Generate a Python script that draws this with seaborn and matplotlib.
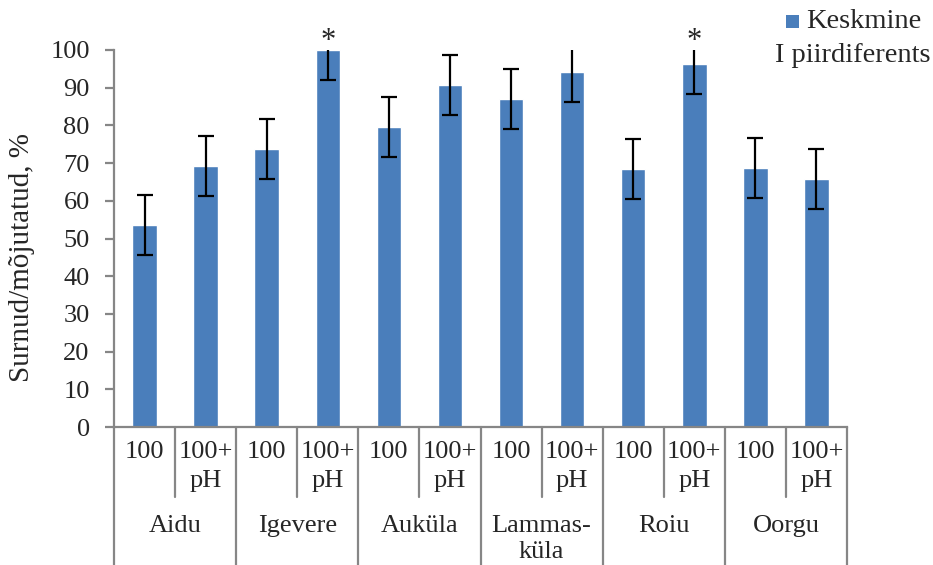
import matplotlib
matplotlib.use("Agg")
import matplotlib.pyplot as plt
import seaborn as sns
import pandas as pd
import numpy as np
from matplotlib.lines import Line2D
from matplotlib.patches import Rectangle

group_labels = ["Aidu", "Igevere", "Auküla", "Lammas-\nküla", "Roiu", "Oorgu"]
subcats = ["100", "100+\npH"]
values = [53.6, 69.3, 73.7, 100.0, 79.5, 90.7, 87.0, 94.2, 68.5, 96.4, 68.7, 65.8]
errors = [8, 8, 8, 8, 8, 8, 8, 8, 8, 8, 8, 8]
significant = [False, False, False, True, False, False, False, False, False, True, False, False]
yticks = [0, 10, 20, 30, 40, 50, 60, 70, 80, 90, 100]

sns.set_style("white")
plt.rcParams["font.family"] = ["Liberation Serif", "DejaVu Serif"]

bar_color = "#4A7EBB"
axis_gray = "#868686"

labels = [f"{g}|{s}" for g in group_labels for s in subcats]
df = pd.DataFrame({"cat": labels, "val": values})

fig = plt.figure(figsize=(9.33, 5.65), dpi=100)
ax = fig.add_axes([114/933, 1-427/565, (847-114)/933, (427-50)/565])

sns.barplot(data=df, x="cat", y="val", color=bar_color, width=0.4, ax=ax,
            errorbar=None, saturation=1)
xs = np.arange(len(values))
ax.errorbar(xs, values, yerr=errors, fmt="none", ecolor="black", elinewidth=1.6,
            capsize=5.5, capthick=1.6, zorder=5)

ax.set_xlim(-0.5, len(values) - 0.5)
ax.set_ylim(0, 100)
ax.set_yticks(yticks)
ax.set_yticklabels([str(t) for t in yticks], fontsize=19)
ax.set_xticks([])
ax.set_xlabel("")
ax.set_ylabel("")
for s in ["top", "right"]:
    ax.spines[s].set_visible(False)
for s in ["left", "bottom"]:
    ax.spines[s].set_color(axis_gray)
    ax.spines[s].set_linewidth(1.6)
ax.tick_params(axis="y", direction="out", length=6.5, width=1.6, color=axis_gray, pad=11, left=True)

# asterisks
for x, v, sig in zip(xs, values, significant):
    if sig:
        ax.text(x, 102.3, "*", ha="center", va="center", fontsize=22, clip_on=False)

# multi-level category axis
trans = ax.get_xaxis_transform()
def ax_y(py):
    return (427 - py) / (427 - 50)

for i in range(len(group_labels) + 1):
    x = 2 * i - 0.5
    ax.add_line(Line2D([x, x], [0, ax_y(566)], transform=trans, color=axis_gray,
                       lw=1.6, clip_on=False))
for i in range(len(group_labels)):
    x = 2 * i + 0.5
    ax.add_line(Line2D([x, x], [0, ax_y(497)], transform=trans, color=axis_gray,
                       lw=1.6, clip_on=False))

for i, lab in enumerate(labels):
    g, s = lab.split("|")
    ax.text(i, ax_y(441), s, transform=trans, ha="center", va="top",
            fontsize=19, linespacing=1.42, clip_on=False)
for i, g in enumerate(group_labels):
    ax.text(2 * i + 0.5, ax_y(515), g, transform=trans, ha="center", va="top",
            fontsize=19, linespacing=1.22, clip_on=False)

# y label
fig.text(22/933, 1 - 258/565, "Surnud/mõjutatud, %", rotation=90, ha="center",
         va="center", fontsize=21)

# legend
fig.patches.append(Rectangle((786/933, 1 - 28/565), 13/933, 13/565,
                             transform=fig.transFigure, facecolor=bar_color,
                             edgecolor="none"))
fig.text(806/933, 1 - 22/565, "Keskmine", ha="left", va="center", fontsize=20.5)
fig.text(853/933, 1 - 55/565, "I piirdiferents", ha="center", va="center", fontsize=20.5)

fig.savefig("out.png", dpi=100)
